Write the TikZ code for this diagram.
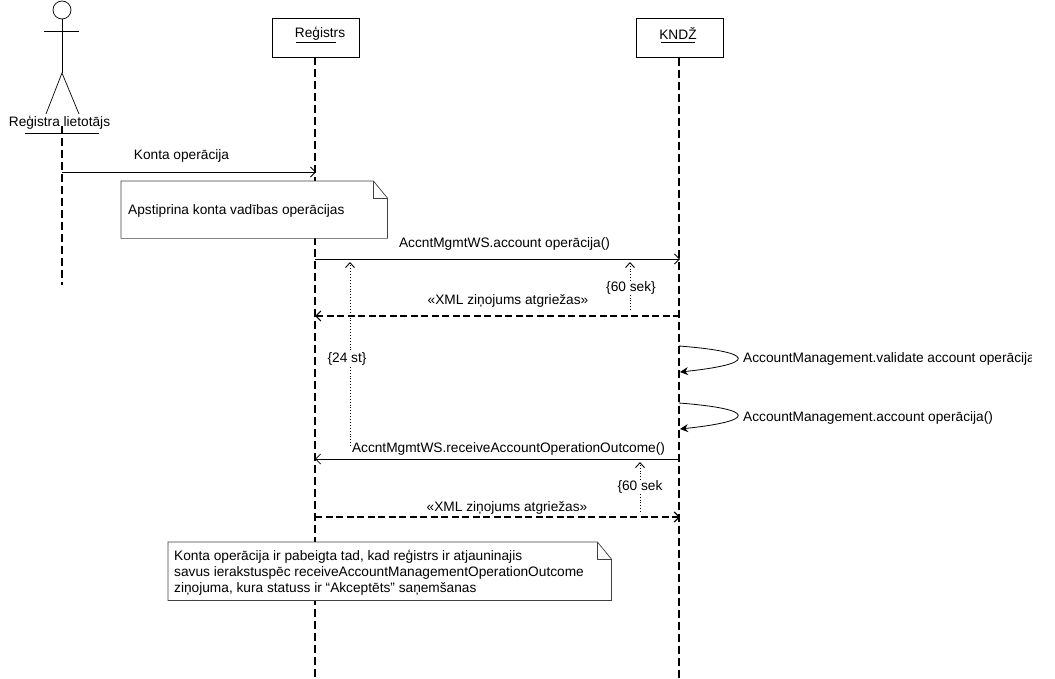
\documentclass[tikz,border=0pt]{standalone}
\usepackage{fontspec}
\setmainfont{Liberation Sans}
\usetikzlibrary{arrows.meta,calc}
\tikzset{
  objbox/.style={
    draw,
    rectangle,
    minimum width=87pt,
    minimum height=39pt,
    inner sep=0pt,
    fill=white
  },
  notebox/.style={
    rectangle,
    fill=white,
    inner sep=0pt,
    anchor=north west
  },
  notetext/.style={align=left,anchor=west,inner sep=0pt},
  msglabel/.style={inner sep=0pt},
  timelabel/.style={inner sep=1pt,fill=white},
  lifeline/.style={line width=1.4pt,dash pattern=on 8pt off 4pt},
  call/.style={-{Straight Barb[length=5pt,width=10pt]},line width=0.8pt},
  reply/.style={-{Straight Barb[length=5pt,width=10pt]},line width=1.1pt,dash pattern=on 7pt off 3.5pt},
  selfcall/.style={-{Stealth[length=8pt,width=8pt]},line width=0.8pt},
  limit/.style={-{Straight Barb[length=5pt,width=9pt]},line width=0.9pt,dotted}
}
\begin{document}
\begin{tikzpicture}[x=1pt,y=-1pt,font=\fontsize{13.7}{16}\selectfont]
  \useasboundingbox (0,0) rectangle (1055,679);
  % objekti
  \node[objbox] (reg) at (315.5,38) {};
  \node[objbox] (knd) at (679.5,38) {};
  \node[msglabel] (regname) at (320,34) {Reģistrs};
  \node[msglabel] (kndname) at (678,34) {KNDŽ};
  \draw (296,42.5) -- (336,42.5);
  \draw (661,42.5) -- (695,42.5);
  \coordinate (regend) at (315,679);
  \coordinate (kndend) at (679,679);
  \coordinate (useend) at (62,285);
  \draw[lifeline] (315,57) -- (regend);
  \draw[lifeline] (knd.south -| 679,0) -- (kndend);
  % aktieris
  \begin{scope}
    \clip (0,0) rectangle (1055,679);
    \draw[line width=0.7pt] (62,10) circle (9);
  \end{scope}
  \coordinate (neck) at (62,19);
  \coordinate (hip) at (62,73);
  \draw[line width=0.7pt] (neck) -- (hip);
  \draw[line width=0.7pt] (44,31) -- (79,31);
  \draw[line width=0.7pt] (46,114) -- (hip) -- (79,114);
  \node[msglabel] (user) at (59.5,123) {Reģistra lietotājs};
  \draw[line width=0.7pt] (25,133.5) -- (99,133.5);
  \draw[lifeline] (62,126) -- (useend);
  % ziņojumi
  \coordinate (m1a) at (62,172);
  \coordinate (m1b) at (316,172);
  \draw[call] (m1a) -- (m1b);
  \node[msglabel] (m1) at (181.5,156) {Konta operācija};
  \node[notebox,minimum width=266pt,minimum height=57pt] (note1) at (121,181) {};
  \draw[black!75,line width=0.7pt] (note1.north west) -- ($(note1.north east)+(-14,0)$) -- ($(note1.north east)+(0,17)$)
    -- (note1.south east) -- (note1.south west) -- cycle;
  \draw[black!75,line width=0.7pt] ($(note1.north east)+(-14,0)$) -- ($(note1.north east)+(-14,17)$) -- ($(note1.north east)+(0,17)$);
  \node[notetext] (note1txt) at (128,211) {Apstiprina konta vadības operācijas};
  \coordinate (m2a) at (315,259);
  \coordinate (m2b) at (680,259);
  \draw[call] (m2a) -- (m2b);
  \node[msglabel] (m2) at (504.5,244) {AccntMgmtWS.account operācija()};
  \coordinate (m3a) at (680,316);
  \coordinate (m3b) at (315,316);
  \coordinate (lim1a) at (630,310);
  \coordinate (lim1b) at (630,262);
  \draw[limit] (lim1a) -- (lim1b);
  \node[timelabel] (lim1) at (631,288) {\{60 sek\}};
  \coordinate (lim2a) at (350,446);
  \coordinate (lim2b) at (350,262);
  \draw[limit] (lim2a) -- (lim2b);
  \node[timelabel] (lim2) at (347,359) {\{24 st\}};
  \draw[reply] (m3a) -- (m3b);
  \node[msglabel] (m3) at (508,301) {«XML ziņojums atgriežas»};
  % pašizsaukumi
  \coordinate (s1a) at (679,346);
  \coordinate (s1b) at (680,372);
  \coordinate (s2a) at (679,403);
  \coordinate (s2b) at (680,429);
  \draw[selfcall] (s1a) .. controls (757,352) and (757,364) .. (s1b);
  \draw[selfcall] (s2a) .. controls (757,409) and (757,421) .. (s2b);
  \begin{scope}
    \clip (740,340) rectangle (1031,380);
    \node[msglabel,anchor=west] (s1) at (743,359) {AccountManagement.validate account operācija};
  \end{scope}
  \node[msglabel,anchor=west] (s2) at (743,418) {AccountManagement.account operācija()};
  \coordinate (m4a) at (680,459);
  \coordinate (m4b) at (315,459);
  \draw[call] (m4a) -- (m4b);
  \node[msglabel] (m4) at (508.5,449) {AccntMgmtWS.receiveAccountOperationOutcome()};
  \coordinate (lim3a) at (640,512);
  \coordinate (lim3b) at (640,462);
  \draw[limit] (lim3a) -- (lim3b);
  \node[timelabel] (lim3) at (640,487) {\{60 sek};
  \coordinate (m5a) at (315,517);
  \coordinate (m5b) at (680,517);
  \draw[reply] (m5a) -- (m5b);
  \node[msglabel] (m5) at (507,508) {«XML ziņojums atgriežas»};
  % piezīme
  \node[notebox,minimum width=443pt,minimum height=58pt] (note2) at (168,542) {};
  \draw[black!75,line width=0.7pt] (note2.north west) -- ($(note2.north east)+(-14,0)$) -- ($(note2.north east)+(0,17)$)
    -- (note2.south east) -- (note2.south west) -- cycle;
  \draw[black!75,line width=0.7pt] ($(note2.north east)+(-14,0)$) -- ($(note2.north east)+(-14,17)$) -- ($(note2.north east)+(0,17)$);
  \node[notetext] (note2a) at (174,557) {Konta operācija ir pabeigta tad, kad reģistrs ir atjauninajis};
  \node[notetext] (note2b) at (174,573) {savus ierakstuspēc receiveAccountManagementOperationOutcome};
  \node[notetext] (note2c) at (174,589) {ziņojuma, kura statuss ir “Akceptēts” saņemšanas};
\end{tikzpicture}
\end{document}
